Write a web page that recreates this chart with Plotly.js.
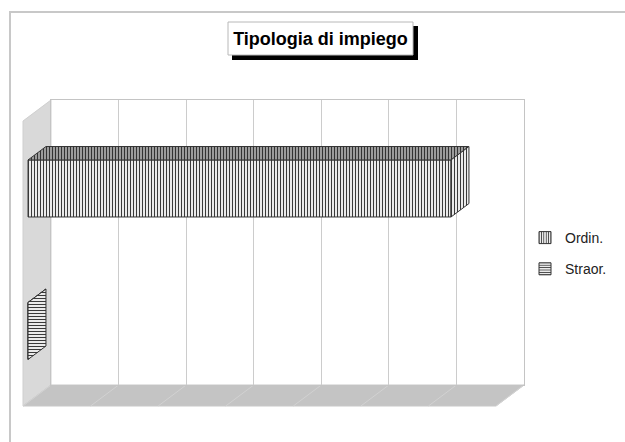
<!DOCTYPE html>
<html>
<head>
<meta charset="utf-8">
<script src="https://cdn.plot.ly/plotly-3.0.1.min.js"></script>
<style>html,body{margin:0;padding:0;background:#fff;}#chart{width:625px;height:442px;}</style>
</head>
<body>
<div id="chart"></div>
<script>
// ---- data ----
const categories = ['Ordin.', 'Straor.'];
const values = [626, 0];
const patterns = ['|', '-'];
const axisMax = 700;
const axisStep = 100;
const titleText = 'Tipologia di impiego';

// ---- geometry (layout only) ----
const W = 625, H = 442;
const BX0 = 51, BX1 = 524, BY0 = 100, BY1 = 385;   // back wall
const DX = -28, DY = 21;                            // depth (back -> front)
const F_BACK = 0.18, F_FRONT = 0.82;                // bar depth fractions
const BAR_W = 0.4;

const s = (BX1 - BX0) / axisMax;                    // px per value unit
const frontX0 = BX0 + F_FRONT * DX;
const frontY0 = BY0 + F_FRONT * DY;
const catPx = (BY1 - BY0) / categories.length;
const c0Px = frontY0 + catPx * 0.5;
const x2range = [(0 - frontX0) / s, (W - frontX0) / s];
const y2range = [(H - c0Px) / catPx, (0 - c0Px) / catPx];
const depthDxV = ((F_FRONT - F_BACK) * -DX) / s;    // value units to back face
const depthDyC = -((F_FRONT - F_BACK) * DY) / catPx;

const P = (x, y) => (x / W) + ',' + (1 - y / H);
const poly = pts => 'M' + pts.map(p => P(p[0], p[1])).join('L') + 'Z';

const traces = [];
// back wall subplot carrier (draws the value-axis grid)
traces.push({ type: 'scatter', mode: 'none', x: [0], y: [0], xaxis: 'x', yaxis: 'y', showlegend: false, hoverinfo: 'skip' });
categories.forEach((cat, i) => {
  traces.push({
    type: 'bar', orientation: 'h', name: cat, legendgroup: cat,
    x: [values[i]], y: [i], width: BAR_W, xaxis: 'x2', yaxis: 'y2',
    marker: { color: '#ffffff', line: { color: '#333333', width: 1 },
      pattern: { shape: patterns[i], size: 3, solidity: 0.4, fgcolor: '#3a3a3a', bgcolor: '#ffffff', fillmode: 'replace' } },
    hoverinfo: 'skip'
  });
});
categories.forEach((cat, i) => {
  const v = values[i];
  const top = i - BAR_W / 2, bot = i + BAR_W / 2;
  // top face
  traces.push({
    type: 'scatter', mode: 'lines', xaxis: 'x2', yaxis: 'y2', showlegend: false, hoverinfo: 'skip',
    x: [0, v, v + depthDxV, depthDxV, 0],
    y: [top, top, top + depthDyC, top + depthDyC, top],
    fill: 'toself', fillcolor: '#a8a8a8',
    fillpattern: { shape: patterns[i], size: 3, solidity: 0.4, fgcolor: '#333333', bgcolor: '#a8a8a8' },
    line: { color: '#333333', width: 1 }
  });
  // end face
  traces.push({
    type: 'scatter', mode: 'lines', xaxis: 'x2', yaxis: 'y2', showlegend: false, hoverinfo: 'skip',
    x: [v, v + depthDxV, v + depthDxV, v, v],
    y: [top, top + depthDyC, bot + depthDyC, bot, top],
    fill: 'toself', fillcolor: '#ffffff',
    fillpattern: { shape: patterns[i], size: 3, solidity: 0.4, fgcolor: '#3a3a3a', bgcolor: '#ffffff' },
    line: { color: '#333333', width: 1 }
  });
});

const shapes = [];
// outer border
shapes.push({ type: 'path', xref: 'paper', yref: 'paper', layer: 'below',
  path: 'M' + P(10, 460) + 'L' + P(10, 12) + 'L' + P(640, 12),
  line: { color: '#c8c8c8', width: 2 } });
// left wall
shapes.push({ type: 'path', xref: 'paper', yref: 'paper', layer: 'below',
  path: poly([[BX0, BY0], [BX0, BY1], [BX0 + DX, BY1 + DY], [BX0 + DX, BY0 + DY]]),
  fillcolor: '#d9d9d9', line: { color: '#cfcfcf', width: 1 } });
// floor
shapes.push({ type: 'path', xref: 'paper', yref: 'paper', layer: 'below',
  path: poly([[BX0, BY1], [BX1, BY1], [BX1 + DX, BY1 + DY], [BX0 + DX, BY1 + DY]]),
  fillcolor: '#c4c4c4', line: { color: '#c8c8c8', width: 1 } });
// floor grid diagonals
for (let v = 0; v <= axisMax; v += axisStep) {
  const x = BX0 + v * s;
  shapes.push({ type: 'line', xref: 'paper', yref: 'paper', layer: 'below',
    x0: x / W, y0: 1 - BY1 / H, x1: (x + DX) / W, y1: 1 - (BY1 + DY) / H,
    line: { color: '#d2d2d2', width: 1 } });
}
// title box shadow + box
shapes.push({ type: 'rect', xref: 'paper', yref: 'paper', layer: 'above',
  x0: 232 / W, x1: 418 / W, y0: 1 - 26 / H, y1: 1 - 60 / H, fillcolor: '#000', line: { width: 0 } });
shapes.push({ type: 'rect', xref: 'paper', yref: 'paper', layer: 'above',
  x0: 228 / W, x1: 413 / W, y0: 1 - 22 / H, y1: 1 - 55 / H, fillcolor: '#fff', line: { color: '#b8b8b8', width: 1 } });

const layout = {
  width: W, height: H,
  margin: { l: 0, r: 0, t: 0, b: 0, pad: 0 },
  paper_bgcolor: '#ffffff', plot_bgcolor: 'rgba(0,0,0,0)',
  font: { family: 'Liberation Sans, Arial, sans-serif', color: '#222' },
  title: { text: '<b>' + titleText + '</b>', font: { size: 18, color: '#000', family: 'Liberation Sans, Arial, sans-serif' },
    x: 320.5 / W, xanchor: 'center', y: 1 - 39 / H, yanchor: 'middle', xref: 'paper', yref: 'container' },
  barmode: 'overlay',
  showlegend: true,
  legend: { x: 525 / W, y: 1 - 222 / H, xanchor: 'left', yanchor: 'top', traceorder: 'grouped', tracegroupgap: 10,
    font: { size: 14, color: '#222' }, bgcolor: 'rgba(0,0,0,0)' },
  xaxis: { domain: [BX0 / W, BX1 / W], range: [0, axisMax], dtick: axisStep, showgrid: true, gridcolor: '#cccccc', gridwidth: 1,
    zeroline: false, showticklabels: false, ticks: '', showline: true, mirror: true, linecolor: '#c4c4c4', linewidth: 1, fixedrange: true },
  yaxis: { domain: [1 - BY1 / H, 1 - BY0 / H], range: [0, 1], showgrid: false, zeroline: false, showticklabels: false, ticks: '',
    showline: true, mirror: true, linecolor: '#c4c4c4', linewidth: 1, fixedrange: true },
  xaxis2: { domain: [0, 1], anchor: 'y2', range: x2range, showgrid: false, zeroline: false, showticklabels: false, ticks: '', showline: false, fixedrange: true },
  yaxis2: { domain: [0, 1], anchor: 'x2', range: y2range, showgrid: false, zeroline: false, showticklabels: false, ticks: '', showline: false, fixedrange: true },
  shapes: shapes
};

Plotly.newPlot('chart', traces, layout, { staticPlot: true, displayModeBar: false });
</script>
</body>
</html>
